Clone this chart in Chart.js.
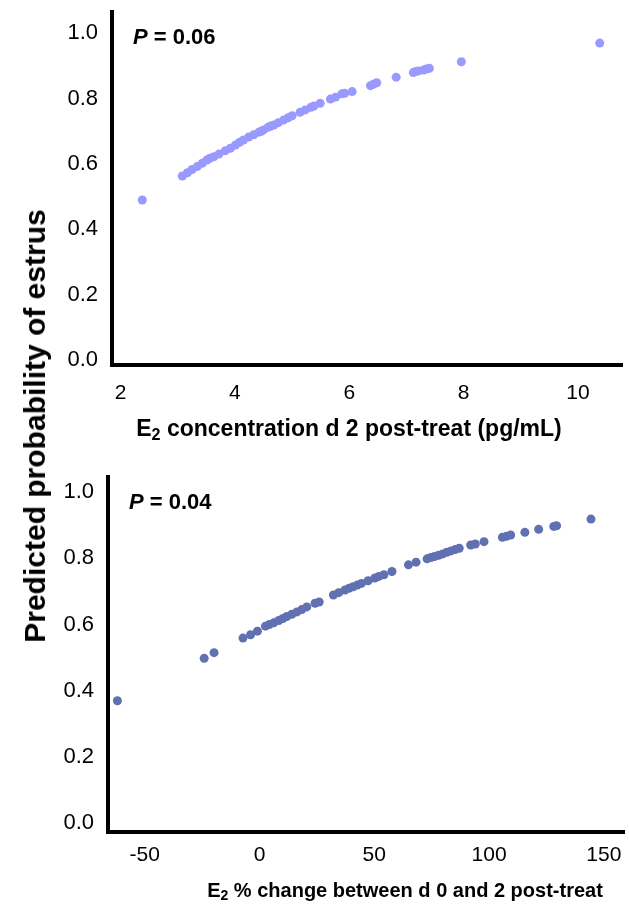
<!DOCTYPE html>
<html>
<head>
<meta charset="utf-8">
<script src="https://cdn.jsdelivr.net/npm/chart.js@4.4.1/dist/chart.umd.min.js"></script>
<style>
    body { margin: 0; background: #fff; width: 629px; height: 904px; overflow: hidden; position: relative; font-family: "Liberation Sans", Arial, sans-serif; color: #000; }
    canvas { position: absolute; left: 0; }
    .lbl { position: absolute; white-space: nowrap; font-weight: bold; }
    .c { transform: translate(-50%, -50%); }
    .l { transform: translateY(-50%); }
    sub { font-size: 0.7em; vertical-align: -0.25em; line-height: 0; }
</style>
</head>
<body>
<canvas id="top" width="629" height="450" style="top:0"></canvas>
<canvas id="bottom" width="629" height="444" style="top:460px"></canvas>

<div class="lbl c" id="ytitle" style="left:35px; top:426px; font-size:30px; transform: translate(-50%, -50%) rotate(-90deg);">Predicted probability of estrus</div>
<div class="lbl l" style="left:133px; top:37px; font-size:22px;"><i>P</i> = 0.06</div>
<div class="lbl c" style="left:349px; top:428px; font-size:23px;">E<sub>2</sub> concentration d 2 post-treat (pg/mL)</div>
<div class="lbl l" style="left:129px; top:502px; font-size:22px;"><i>P</i> = 0.04</div>
<div class="lbl c" style="left:405px; top:890px; font-size:20px;">E<sub>2</sub> % change between d 0 and 2 post-treat</div>

<script>
// top panel: E2 concentration d 2 (pg/mL) vs predicted probability
const concX = [2.38, 3.08, 3.17, 3.25, 3.34, 3.43, 3.51, 3.56, 3.63, 3.72, 3.83, 3.92, 4.01, 4.08, 4.15, 4.24, 4.33, 4.42, 4.46,
    4.50, 4.58, 4.63, 4.68, 4.76, 4.85, 4.93, 5.00, 5.14, 5.23, 5.33, 5.38, 5.49, 5.67, 5.76, 5.87, 5.92, 6.05, 6.37, 6.42,
    6.48, 6.82, 7.12, 7.16, 7.21, 7.30, 7.35, 7.40, 7.96, 10.38];
const concProb = [0.490, 0.563, 0.573, 0.583, 0.592, 0.602, 0.612, 0.617, 0.622, 0.630, 0.640, 0.648, 0.658, 0.666, 0.673, 0.682, 0.689, 0.697, 0.700,
    0.704, 0.712, 0.716, 0.719, 0.726, 0.734, 0.741, 0.747, 0.758, 0.765, 0.773, 0.777, 0.785, 0.798, 0.804, 0.814, 0.816, 0.821, 0.839, 0.843,
    0.848, 0.865, 0.879, 0.882, 0.884, 0.887, 0.890, 0.892, 0.912, 0.969];

// bottom panel: E2 % change between d 0 and 2 vs predicted probability
const changeX = [-61.9, -24.1, -19.8, -7.2, -3.9, -0.9, 2.6, 4.3, 6.2, 8.4, 10.2, 11.9, 14.1, 16.3, 18.4, 20.6, 24.2, 26.0,
    32.2, 34.5, 37.2, 39.0, 40.8, 42.6, 44.4, 47.3, 50.2, 52.0, 54.2, 57.7, 64.9, 68.2, 73.0, 74.6, 76.2, 78.0, 79.8,
    81.6, 83.4, 85.2, 87.0, 92.0, 94.0, 97.8, 105.8, 107.6, 109.4, 115.6, 121.6, 128.2, 129.4, 144.4];
const changeProb = [0.370, 0.498, 0.515, 0.559, 0.569, 0.580, 0.595, 0.600, 0.605, 0.612, 0.618, 0.624, 0.631, 0.638, 0.645, 0.653, 0.664, 0.668,
    0.689, 0.696, 0.704, 0.709, 0.714, 0.719, 0.724, 0.732, 0.740, 0.745, 0.750, 0.760, 0.780, 0.788, 0.798, 0.802, 0.805, 0.809, 0.813,
    0.818, 0.822, 0.826, 0.830, 0.840, 0.843, 0.850, 0.863, 0.866, 0.870, 0.878, 0.887, 0.896, 0.898, 0.918];

const probTicks = [0, 0.2, 0.4, 0.6, 0.8, 1.0];
const concTicks = [2, 4, 6, 8, 10];
const changeTicks = [-50, 0, 50, 100, 150];

const fontFamily = "'Liberation Sans', Arial, sans-serif";

// drop the extra room chart.js keeps for edge tick labels
function noPad(s) {
    s.paddingTop = 0;
    s.paddingBottom = 0;
    s.paddingLeft = 0;
    s.paddingRight = 0;
}

function makeChart(id, xs, ys, color, o) {
    const ctx = document.getElementById(id).getContext('2d');
    const points = xs.map((x, i) => ({ x: x, y: ys[i] }));

    return new Chart(ctx, {
        type: 'scatter',
        data: {
            datasets: [{
                data: points,
                backgroundColor: color,
                borderWidth: 0,
                pointRadius: 4.5,
                pointHoverRadius: 4.5
            }]
        },
        options: {
            responsive: false,
            animation: false,
            layout: { padding: { top: o.top, right: o.right, left: 0, bottom: 0 } },
            plugins: { legend: { display: false }, tooltip: { enabled: false } },
            scales: {
                x: {
                    type: 'linear',
                    min: o.xMin,
                    max: o.xMax,
                    border: { color: '#000', width: 4 },
                    grid: { color: 'rgba(0,0,0,0)', drawTicks: false },
                    ticks: { font: { family: fontFamily, size: 21 }, color: '#000', padding: o.xPad },
                    afterBuildTicks: s => { s.ticks = o.xTicks.map(v => ({ value: v })); },
                    afterFit: s => { s.height = o.xHeight; noPad(s); }
                },
                y: {
                    min: o.yMin,
                    max: o.yMax,
                    border: { color: '#000', width: 4 },
                    grid: { color: 'rgba(0,0,0,0)', drawTicks: false },
                    ticks: { font: { family: fontFamily, size: 22 }, color: '#000', padding: o.yPad, callback: v => v.toFixed(1) },
                    afterBuildTicks: s => { s.ticks = probTicks.map(v => ({ value: v })); },
                    afterFit: s => { s.width = o.yWidth; noPad(s); }
                }
            }
        }
    });
}

makeChart('top', concX, concProb, 'rgb(153,153,255)', {
    xMin: 1.85, xMax: 10.77, yMin: -0.014, yMax: 1.064,
    xTicks: concTicks, top: 12, right: 7, xHeight: 85, yWidth: 112, xPad: 16, yPad: 14
});

makeChart('bottom', changeX, changeProb, 'rgb(96,112,176)', {
    xMin: -66, xMax: 159, yMin: -0.026, yMax: 1.045,
    xTicks: changeTicks, top: 17, right: 1, xHeight: 72, yWidth: 108, xPad: 11, yPad: 14
});
</script>
</body>
</html>
